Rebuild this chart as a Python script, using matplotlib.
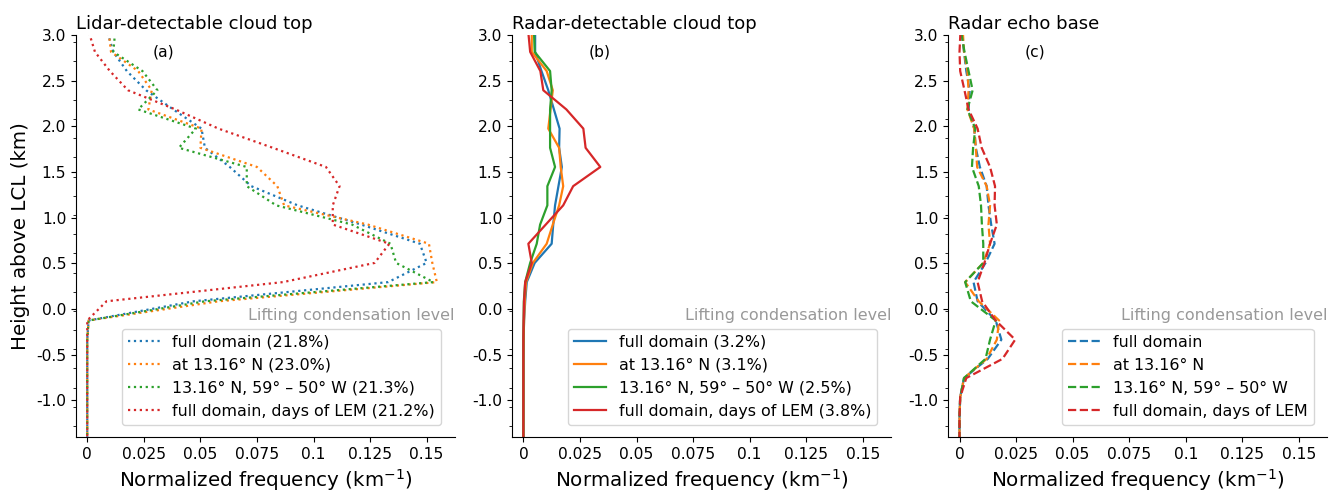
import numpy as np
import matplotlib
matplotlib.use("Agg")
import matplotlib.pyplot as plt
from matplotlib.ticker import FixedLocator, FuncFormatter

plt.rcParams['axes.unicode_minus'] = False
plt.rcParams['font.family'] = ['DejaVu Sans']

# height of bin centres above LCL (km)
heights = [3.025, 2.815, 2.605, 2.395, 2.185, 1.975, 1.765, 1.555, 1.345, 1.135,
           0.925, 0.715, 0.505, 0.295, 0.085, -0.125, -0.335, -0.545, -0.755,
           -0.965, -1.175, -1.385, -1.595]

series_names = ["full domain", "at 13.16° N", "13.16° N, 59° – 50° W",
                "full domain, days of LEM"]
colors = ["#1f77b4", "#ff7f0e", "#2ca02c", "#d62728"]

# (a) Lidar-detectable cloud top
lidar_full = [0.009, 0.0115, 0.0175, 0.026, 0.038, 0.0505, 0.052, 0.063, 0.0725, 0.093,
              0.121, 0.147, 0.150, 0.133, 0.047, 0.0006, 0, 0, 0, 0, 0, 0, 0]
lidar_lat = [0.0095, 0.0105, 0.0225, 0.0285, 0.027, 0.0505, 0.050, 0.075, 0.0840, 0.087,
             0.124, 0.151, 0.1525, 0.1545, 0.058, 0.0006, 0, 0, 0, 0, 0, 0, 0]
lidar_box = [0.0123, 0.0115, 0.0244, 0.031, 0.0225, 0.048, 0.0405, 0.0705, 0.0705, 0.0835,
             0.117, 0.134, 0.1365, 0.153, 0.052, 0.0006, 0, 0, 0, 0, 0, 0, 0]
lidar_lem = [0.0008, 0.0034, 0.010, 0.018, 0.039, 0.058, 0.082, 0.1055, 0.1115, 0.1085,
             0.1085, 0.1335, 0.127, 0.0865, 0.0085, 0.0, 0, 0, 0, 0, 0, 0, 0]
lidar_pct = ["21.8%", "23.0%", "21.3%", "21.2%"]

# (b) Radar-detectable cloud top
radar_full = [0.0052, 0.0052, 0.008, 0.011, 0.0135, 0.016, 0.0158, 0.017, 0.0155, 0.014,
              0.0132, 0.0125, 0.005, 0.0015, 0.0008, 0.0003, 0.0001, 0, 0, 0, 0, 0, 0]
radar_lat = [0.0037, 0.0037, 0.0103, 0.013, 0.012, 0.011, 0.0158, 0.0165, 0.0176, 0.0158,
             0.013, 0.0103, 0.0042, 0.0012, 0.0006, 0.0003, 0.0001, 0, 0, 0, 0, 0, 0]
radar_box = [0.0047, 0.005, 0.0118, 0.0125, 0.0118, 0.0118, 0.0118, 0.014, 0.0106, 0.0106,
             0.0074, 0.0059, 0.003, 0.0008, 0.0002, 0.0001, 0.0, 0, 0, 0, 0, 0, 0]
radar_lem = [0.0022, 0.003, 0.0075, 0.0088, 0.019, 0.0265, 0.0275, 0.034, 0.022, 0.0176,
             0.0099, 0.0022, 0.0037, 0.0008, 0.0003, 0.0001, 0.0, 0, 0, 0, 0, 0, 0]
radar_pct = ["3.2%", "3.1%", "2.5%", "3.8%"]

# (c) Radar echo base
base_full = [0.001, 0.002, 0.003, 0.0045, 0.004, 0.0065, 0.0072, 0.009, 0.012, 0.0128,
             0.014, 0.0155, 0.0115, 0.0062, 0.008, 0.016, 0.0185, 0.0125, 0.002, 0.0003,
             0, 0, 0]
base_lat = [0.0015, 0.002, 0.0035, 0.004, 0.0035, 0.0065, 0.0072, 0.0078, 0.012, 0.0135,
            0.0128, 0.0135, 0.0105, 0.0025, 0.0085, 0.0175, 0.0165, 0.012, 0.002, 0.0003,
            0, 0, 0]
base_box = [0.0008, 0.0022, 0.004, 0.0058, 0.0035, 0.007, 0.006, 0.0055, 0.0085, 0.0095,
            0.0099, 0.0105, 0.0105, 0.0025, 0.005, 0.016, 0.0135, 0.0115, 0.002, 0.0003,
            0, 0, 0]
base_lem = [0.0004, 0.0, 0.0003, 0.0022, 0.004, 0.008, 0.0098, 0.0135, 0.0157, 0.0155,
            0.0165, 0.0135, 0.011, 0.008, 0.010, 0.016, 0.0246, 0.019, 0.003, 0.0003,
            0, 0, 0]

panel_titles = ["Lidar-detectable cloud top", "Radar-detectable cloud top", "Radar echo base"]
panel_tags = ["(a)", "(b)", "(c)"]
xticks = [0, 0.025, 0.05, 0.075, 0.1, 0.125, 0.15]
xtick_labels = ["0", "0.025", "0.05", "0.075", "0.1", "0.125", "0.15"]
yticks = [-1.0, -0.5, 0.0, 0.5, 1.0, 1.5, 2.0, 2.5, 3.0]

panels = [
    ([lidar_full, lidar_lat, lidar_box, lidar_lem], ":", lidar_pct),
    ([radar_full, radar_lat, radar_box, radar_lem], "-", radar_pct),
    ([base_full, base_lat, base_box, base_lem], "--", None),
]

fig = plt.figure(figsize=(13.44, 4.96), dpi=100)
lefts = [0.0565, 0.381, 0.7055]
heights_arr = np.array(heights)
minor_edges = heights_arr[:-1] - 0.105

for i, (series, ls, pcts) in enumerate(panels):
    ax = fig.add_axes([lefts[i], 0.119, 0.282, 0.8105])
    for j, vals in enumerate(series):
        label = series_names[j] if pcts is None else f"{series_names[j]} ({pcts[j]})"
        ax.plot(vals, heights, ls=ls, color=colors[j], lw=1.6, label=label)
    ax.set_xlim(-0.005, 0.1625)
    ax.set_ylim(-1.4, 3.0)
    ax.set_xticks(xticks)
    ax.set_xticklabels(xtick_labels)
    ax.set_yticks(yticks)
    ax.yaxis.set_major_formatter(FuncFormatter(lambda v, p: f"{v:.1f}"))
    ax.yaxis.set_minor_locator(FixedLocator(list(minor_edges)))
    ax.tick_params(axis='both', labelsize=11.2)
    ax.spines['top'].set_visible(False)
    ax.spines['right'].set_visible(False)
    ax.set_title(panel_titles[i], loc='left', fontsize=13, pad=4)
    ax.text(0.23, 0.958, panel_tags[i], transform=ax.transAxes, ha='center',
            va='center', fontsize=11.2)
    ax.text(0.1625, -0.075, "Lifting condensation level", ha='right', va='center',
            color='#999999', fontsize=11.5)
    ax.set_xlabel("Normalized frequency (km$^{-1}$)", fontsize=14.3)
    if i == 0:
        ax.set_ylabel("Height above LCL (km)", fontsize=14.3)
    ax.legend(loc='lower right', fontsize=11.4, bbox_to_anchor=(0.985, 0.01))

fig.savefig("out.png", dpi=100)
